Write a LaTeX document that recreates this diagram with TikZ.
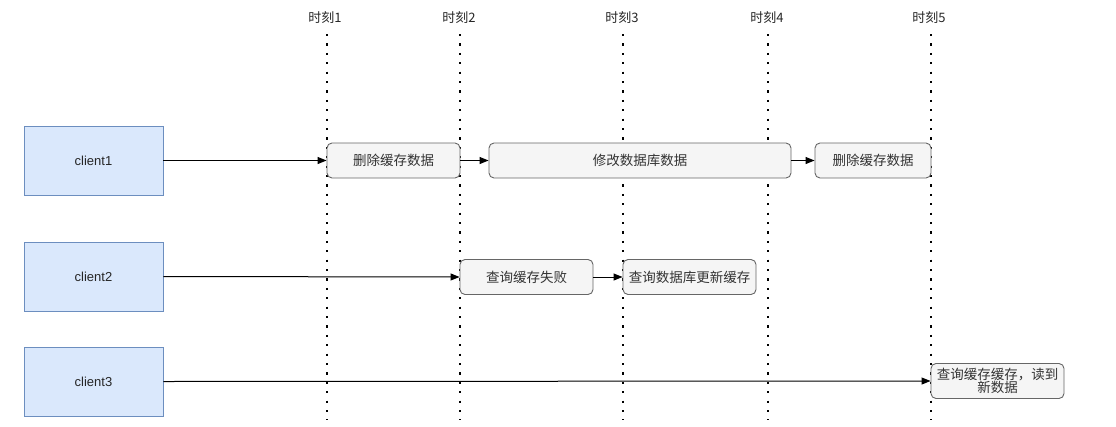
\documentclass[tikz,border=0pt]{standalone}
\usepackage{fontspec}
\setmainfont{Liberation Sans}
\newfontfamily\cjk{Noto Sans CJK SC}
\usetikzlibrary{arrows.meta}
\definecolor{boxfill}{HTML}{F5F5F5}
\definecolor{boxdraw}{HTML}{666666}
\definecolor{boxtext}{HTML}{333333}
\definecolor{clfill}{HTML}{DAE8FC}
\definecolor{cldraw}{HTML}{6C8EBF}
\tikzset{
  client/.style={draw=cldraw, fill=clfill, line width=0.9pt, minimum width=139pt, minimum height=69pt, inner sep=0pt, font=\fontsize{13}{15}\selectfont, text=black!85},
  stepbox/.style={draw=boxdraw, fill=boxfill, line width=0.9pt, rounded corners=5pt, minimum height=35pt, inner sep=1pt, font=\cjk\fontsize{13.5}{16}\selectfont, text=boxtext, align=center},
  timeline/.style={line width=2.2pt, dash pattern=on 2.2pt off 7.2pt, black},
  tlabel/.style={font=\cjk\fontsize{13}{15}\selectfont, text=black!85},
  conn/.style={-{Triangle[length=9pt,width=7pt]}, line width=1pt, black}
}
\begin{document}
\begin{tikzpicture}[x=1pt,y=-1pt]
\useasboundingbox (0,0) rectangle (1116,426);
% time labels and dotted lines
\foreach \x/\n/\lx in {327/1/325,460/2/459,623/3/622,768/4/767,931/5/929}{
  \node[tlabel] (t\n) at (\lx,18) {时刻\n};
  \coordinate (ta\n) at (\x,34);
  \coordinate (tb\n) at (\x,420);
  \draw[timeline] (ta\n) -- (tb\n);
}
% clients
\node[client] (c1) at (93.5,160.5) {client1};
\node[client] (c2) at (93.5,276.5) {client2};
\node[client] (c3) at (93.5,381.5) {client3};
% row 1
\node[stepbox, minimum width=133pt] (a1) at (393.5,160.5) {删除缓存数据};
\node[stepbox, minimum width=302pt] (a2) at (640,160.5) {修改数据库数据};
\node[stepbox, minimum width=116pt] (a3) at (873,160.5) {删除缓存数据};
% row 2
\node[stepbox, minimum width=133pt] (b1) at (526.5,277) {查询缓存失败};
\node[stepbox, minimum width=133pt] (b2) at (689.5,277) {查询数据库更新缓存};
% row 3
\node[stepbox, minimum width=133pt] (d1) at (997.5,381) {查询缓存缓存，读到\\[-3pt]新数据};
% connectors
\draw[conn] (c1.east) -- (a1.west);
\draw[conn] (a1.east) -- (a2.west);
\draw[conn] (a2.east) -- (a3.west);
\draw[conn] (c2.east) -- (b1.west);
\draw[conn] (b1.east) -- (b2.west);
\draw[conn] (c3.east) -- (d1.west);
\end{tikzpicture}
\end{document}
